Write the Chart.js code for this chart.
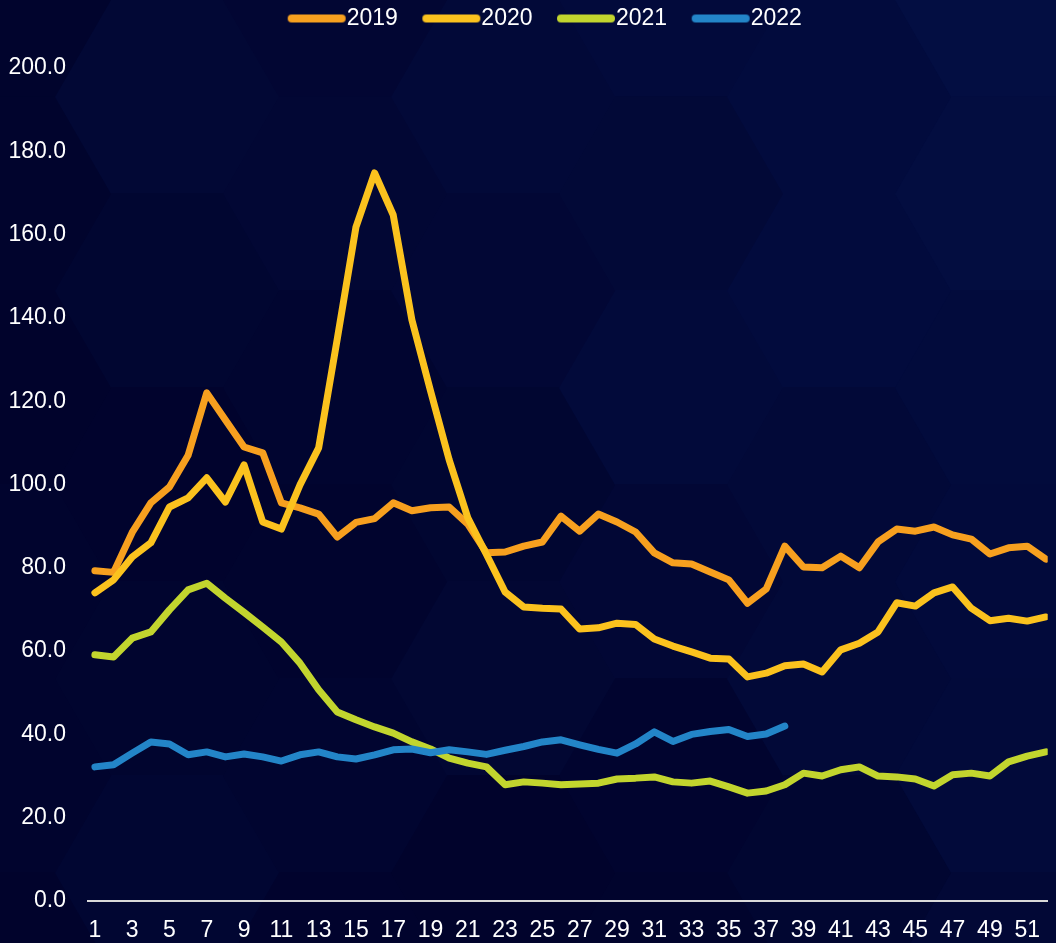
<!doctype html>
<html lang="en">
<head>
<meta charset="utf-8">
<title>Weekly values 2019-2022</title>
<script src="https://cdn.jsdelivr.net/npm/chart.js@4.4.1/dist/chart.umd.min.js"></script>
<style>
  html, body { margin: 0; padding: 0; background: #02032f; overflow: hidden; }
  #wrap { width: 1056px; height: 943px; }
</style>
</head>
<body>
<div id="wrap"><canvas id="chart"></canvas></div>
<script>
// week numbers on the x axis
const weeks = [];
for (let w = 1; w <= 52; w++) weeks.push(w);
const tickWeeks = weeks.filter(w => w % 2 === 1);

const seriesNames = ['2019', '2020', '2021', '2022'];
const seriesColors = ['#f7a01f', '#fbc21e', '#c2d52e', '#2385c8'];

const values2019 = [79.3, 78.9, 88.5, 95.6, 99.4, 107.0, 122.0, 115.5, 109.0, 107.6,
  95.6, 94.4, 92.9, 87.4, 90.9, 91.8, 95.6, 93.7, 94.4, 94.6,
  90.5, 83.6, 83.8, 85.2, 86.2, 92.4, 88.8, 92.9, 91.0, 88.6,
  83.6, 81.2, 80.9, 79.0, 77.1, 71.5, 74.9, 85.2, 80.2, 80.0,
  82.8, 80.0, 86.2, 89.3, 88.8, 89.8, 87.9, 86.9, 83.3, 84.8,
  85.2, 82.1];
const values2020 = [74.0, 77.1, 82.6, 86.0, 94.6, 96.8, 101.6, 95.8, 104.7, 91.0,
  89.3, 99.9, 108.8, 135.0, 161.8, 174.8, 164.7, 139.5, 122.5, 105.9,
  92.0, 83.2, 74.2, 70.6, 70.3, 70.1, 65.3, 65.6, 66.7, 66.4,
  62.9, 61.2, 59.8, 58.3, 58.1, 53.8, 54.7, 56.5, 56.9, 55.0,
  60.3, 61.9, 64.6, 71.6, 70.8, 74.0, 75.4, 70.3, 67.3, 67.9,
  67.2, 68.2];
const values2021 = [59.1, 58.6, 63.1, 64.6, 69.9, 74.7, 76.3, 72.7, 69.3, 65.8,
  62.2, 57.1, 50.7, 45.4, 43.5, 41.8, 40.3, 38.2, 36.5, 34.3,
  33.1, 32.2, 27.9, 28.6, 28.3, 27.9, 28.1, 28.3, 29.3, 29.5,
  29.8, 28.6, 28.3, 28.8, 27.4, 25.9, 26.4, 27.9, 30.7, 30.0,
  31.5, 32.2, 30.0, 29.8, 29.3, 27.6, 30.3, 30.7, 30.0, 33.4,
  34.8, 35.8];
const values2022 = [32.2, 32.7, 35.5, 38.2, 37.7, 35.1, 35.8, 34.6, 35.3, 34.6,
  33.6, 35.1, 35.8, 34.6, 34.1, 35.1, 36.3, 36.5, 35.6, 36.3,
  35.8, 35.2, 36.2, 37.1, 38.2, 38.7, 37.5, 36.4, 35.5, 37.7,
  40.6, 38.3, 40.0, 40.7, 41.2, 39.5, 40.1, 42.0];
const seriesValues = [values2019, values2020, values2021, values2022];

const yTicks = { min: 0, max: 200, step: 20 };

// legend marker: a thick rounded line sitting just left of the label text
function legendMark(color) {
  const c = document.createElement('canvas');
  c.width = 88; c.height = 12;
  const g = c.getContext('2d');
  g.strokeStyle = color;
  g.lineWidth = 8;
  g.lineCap = 'round';
  g.beginPath();
  g.moveTo(33, 6);
  g.lineTo(83, 6);
  g.stroke();
  return c;
}

// dark navy backdrop with large faint hexagons
const hexBackground = {
  id: 'hexBackground',
  beforeDraw(chart) {
    const { ctx, width, height } = chart;
    ctx.save();
    ctx.fillStyle = '#02032f';
    ctx.fillRect(0, 0, width, height);
    const s = 112, h = Math.sqrt(3) * s;
    for (let c = -1; c * 1.5 * s < width + s; c++) {
      for (let r = -1; r * h < height + h; r++) {
        const cx = c * 1.5 * s;
        const cy = r * h + (Math.abs(c) % 2 ? h / 2 : 0);
        const n = Math.sin(c * 12.9898 + r * 78.233) * 43758.5453;
        const f = n - Math.floor(n);
        const lift = Math.max(0, (cx / width) * 0.7 + (1 - cy / height) * 0.5 - 0.45);
        const t = Math.min(1, f * 0.3 + lift);
        ctx.fillStyle = 'rgb(' + Math.round(1 + t * 2) + ',' + Math.round(3 + t * 12) + ',' + Math.round(44 + t * 24) + ')';
        ctx.beginPath();
        for (let k = 0; k < 6; k++) {
          const a = Math.PI / 3 * k;
          const px = cx + (s + 1) * Math.cos(a), py = cy + (s + 1) * Math.sin(a);
          if (k === 0) ctx.moveTo(px, py); else ctx.lineTo(px, py);
        }
        ctx.closePath();
        ctx.fill();
      }
    }
    ctx.restore();
  }
};

// fixed legend band height, and nudge the legend row a little to the right
const legendBand = {
  id: 'legendBand',
  beforeInit(chart) {
    const fit = chart.legend.fit;
    chart.legend.fit = function () {
      fit.bind(chart.legend)();
      this.height = 68;
    };
  },
  afterLayout(chart) {
    chart.legend.left = 16;
  }
};

const datasets = seriesNames.map((name, i) => ({
  label: name,
  data: seriesValues[i].map((v, j) => ({ x: weeks[j], y: v })),
  borderColor: seriesColors[i],
  backgroundColor: seriesColors[i],
  borderWidth: 7,
  borderCapStyle: 'round',
  borderJoinStyle: 'round',
  pointRadius: 0,
  pointHoverRadius: 0,
  pointStyle: legendMark(seriesColors[i]),
  tension: 0,
  order: seriesNames.length - i
}));

Chart.defaults.font.family = '"Liberation Sans", Arial, sans-serif';
Chart.defaults.font.size = 23;
Chart.defaults.color = '#ffffff';

new Chart(document.getElementById('chart'), {
  type: 'line',
  data: { datasets: datasets },
  plugins: [hexBackground, legendBand],
  options: {
    responsive: true,
    maintainAspectRatio: false,
    animation: false,
    layout: { padding: 0 },
    plugins: {
      legend: {
        position: 'top',
        labels: {
          usePointStyle: true,
          pointStyleWidth: 65,
          boxHeight: 12,
          padding: 7,
          color: '#ffffff',
          font: { size: 23 },
          sort: (a, b) => a.datasetIndex - b.datasetIndex
        }
      },
      tooltip: { enabled: false }
    },
    scales: {
      x: {
        type: 'linear',
        min: 0.63,
        max: 52.1,
        grid: { display: false, drawTicks: false },
        border: { display: true, color: '#d9d9d9', width: 2 },
        afterBuildTicks: s => { s.ticks = tickWeeks.map(v => ({ value: v })); },
        afterFit: s => { s.height = 42; },
        ticks: {
          autoSkip: false,
          maxRotation: 0,
          padding: 16,
          color: '#ffffff',
          callback: v => String(v)
        }
      },
      y: {
        min: yTicks.min,
        max: yTicks.max,
        grid: { display: false, drawTicks: false },
        border: { display: false },
        afterFit: s => { s.width = 88; },
        ticks: {
          stepSize: yTicks.step,
          padding: 22,
          color: '#ffffff',
          callback: v => v.toFixed(1)
        }
      }
    }
  }
});
</script>
</body>
</html>
